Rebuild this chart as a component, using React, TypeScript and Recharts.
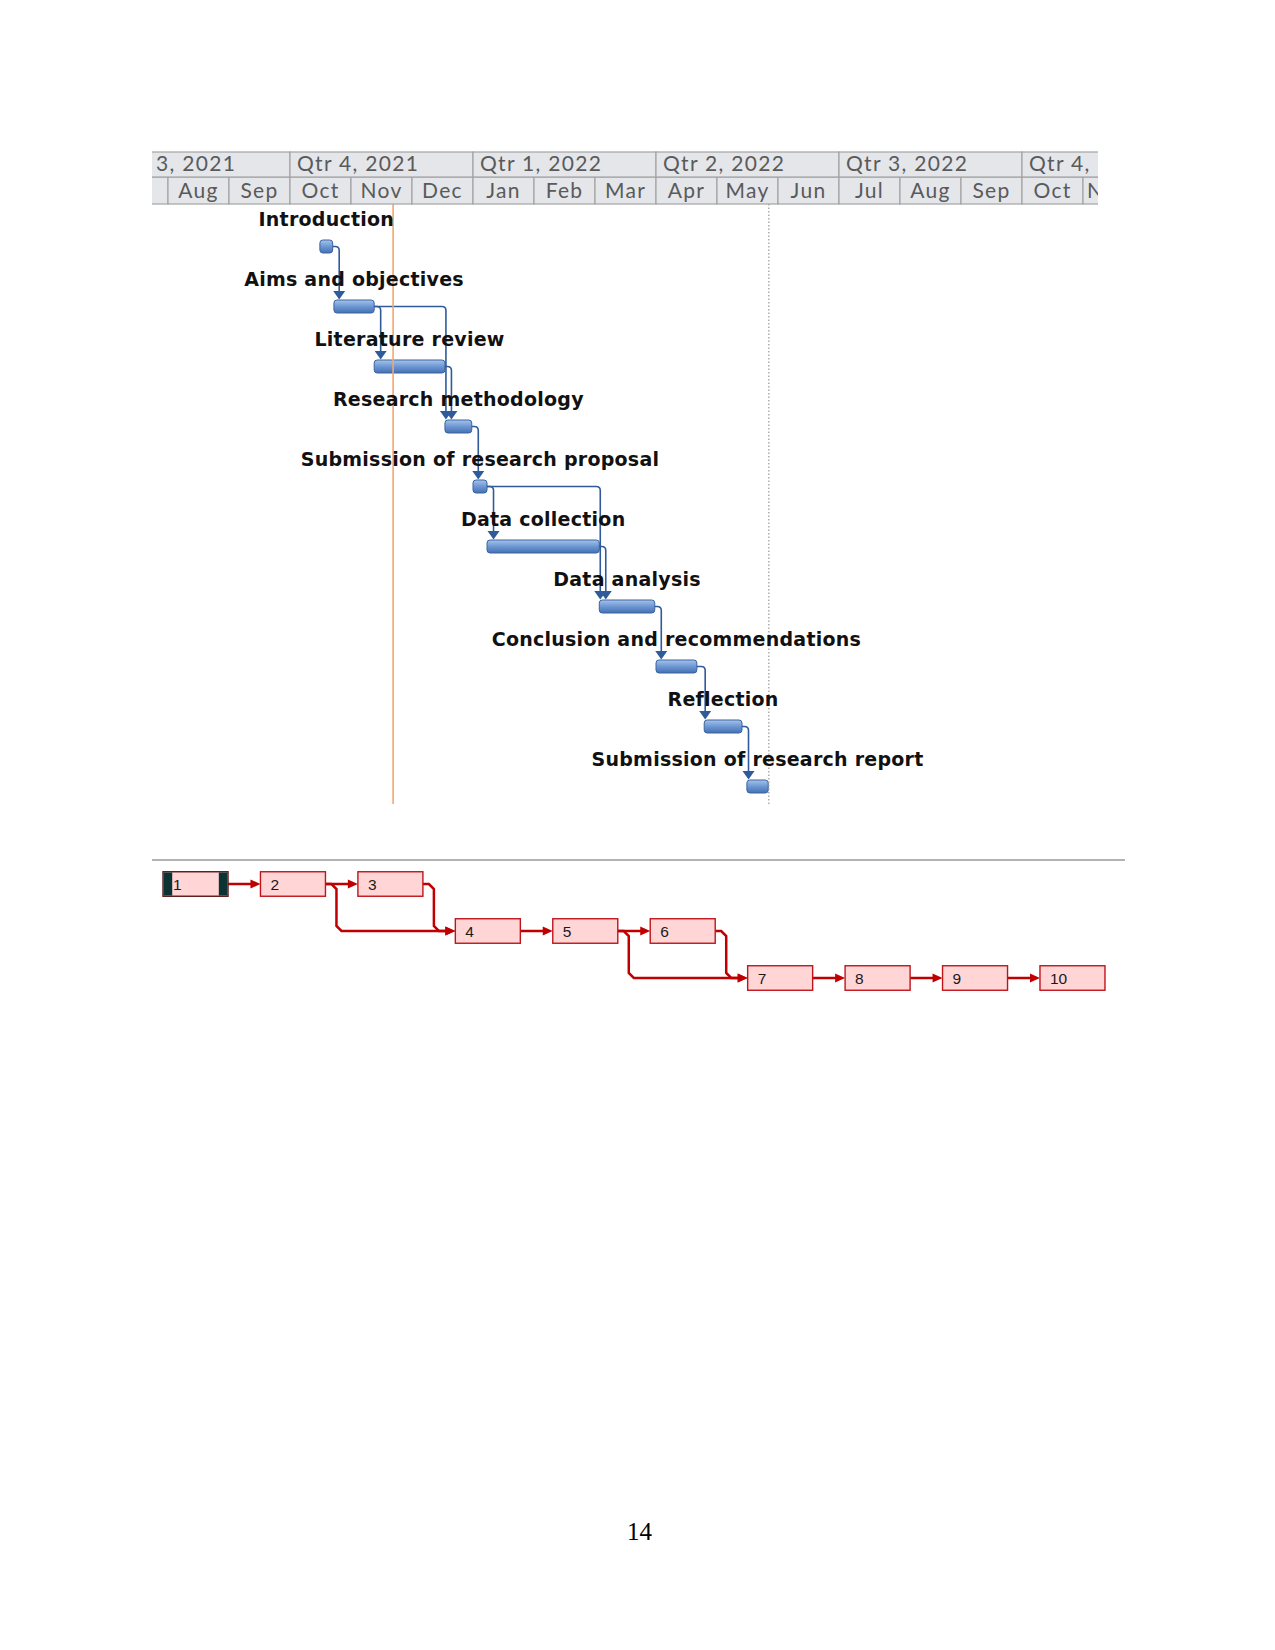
import React from 'react';
import {
  ComposedChart,
  Bar,
  XAxis,
  YAxis,
  ReferenceLine,
  LabelList,
  ScatterChart,
  Scatter,
} from 'recharts';

// timescale, in months counted from 1 Jul 2021
const MONTH_TICKS = [0, 1, 2, 3, 4, 5, 6, 7, 8, 9, 10, 11, 12, 13, 14, 15, 16];
const MONTH_NAMES = ['Jul', 'Aug', 'Sep', 'Oct', 'Nov', 'Dec', 'Jan', 'Feb', 'Mar', 'Apr', 'May', 'Jun', 'Jul', 'Aug', 'Sep', 'Oct', 'Nov'];
const QUARTER_TICKS = [0, 3, 6, 9, 12, 15];
const QUARTER_NAMES = ['Qtr 3, 2021', 'Qtr 4, 2021', 'Qtr 1, 2022', 'Qtr 2, 2022', 'Qtr 3, 2022', 'Qtr 4, 2022'];

const TASKS = [
  'Introduction',
  'Aims and objectives',
  'Literature review',
  'Research methodology',
  'Submission of research proposal',
  'Data collection',
  'Data analysis',
  'Conclusion and recommendations',
  'Reflection',
  'Submission of research report',
];
const TASK_START = [3.49, 3.72, 4.38, 5.54, 6.0, 6.23, 8.07, 9.0, 9.79, 10.49];
const TASK_END = [3.7, 4.38, 5.54, 5.98, 6.23, 8.07, 8.98, 9.67, 10.41, 10.84];
// predecessor -> successor (1-based task ids)
const TASK_LINKS: [number, number][] = [
  [1, 2], [2, 3], [2, 4], [3, 4], [4, 5], [5, 6], [5, 7], [6, 7], [7, 8], [8, 9], [9, 10],
];
const STATUS_DATE = 4.69;
const FINISH_DATE = 10.85;

// network diagram
const NODE_IDS = [1, 2, 3, 4, 5, 6, 7, 8, 9, 10];
const NODE_COLS = [0, 1, 2, 3, 4, 5, 6, 7, 8, 9];
const NODE_ROWS = [0, 0, 0, 1, 1, 1, 2, 2, 2, 2];

// ---- gantt layout
const GANTT_W = 1037;
const GANTT_H = 660;
const X_MAX = 17;
const MONTH_PX = GANTT_W / X_MAX;
const HDR_TOP = 1;
const HDR_Q = 25;
const HDR_M = 27;
const PLOT_H = 600;
const ROW_PX = PLOT_H / TASKS.length;
const BAR_H = 13;
const BAR_SHIFT = 12;
const LABEL_RISE = 21;
const VIEW_END = 16.25;

const HDR_BG = '#e4e6ea';
const HDR_LINE = '#a3a3a3';
const HDR_TEXT = '#5a5a5a';
const HDR_FONT = { fontFamily: 'Lato', fontSize: 21, letterSpacing: 1.3 };
const LINK_BLUE = '#2f5b9b';
const NET_RED = '#c00000';

const ganttRows = TASKS.map((task, i) => ({ task, span: [TASK_START[i], TASK_END[i]], idx: i }));
const netNodes = NODE_IDS.map((id, i) => ({ id, col: NODE_COLS[i], row: NODE_ROWS[i] }));

const QuarterTick = (props: any) => {
  const { x, payload } = props;
  const i = QUARTER_TICKS.indexOf(payload.value);
  return (
    <g>
      <rect x={x} y={HDR_TOP} width={3 * MONTH_PX} height={HDR_Q} fill={HDR_BG} stroke={HDR_LINE} strokeWidth={1.2} />
      <text x={x + 7} y={HDR_TOP + 19} fill={HDR_TEXT} {...HDR_FONT}>
        {QUARTER_NAMES[i]}
      </text>
    </g>
  );
};

const MonthTick = (props: any) => {
  const { x, payload } = props;
  const m = payload.value;
  const clipped = m + 1 > VIEW_END;
  return (
    <g>
      <rect x={x} y={HDR_TOP + HDR_Q} width={MONTH_PX} height={HDR_M} fill={HDR_BG} stroke={HDR_LINE} strokeWidth={1.2} />
      <text
        x={clipped ? x + 4 : x + MONTH_PX / 2}
        y={HDR_TOP + HDR_Q + 20.5}
        textAnchor={clipped ? 'start' : 'middle'}
        fill={HDR_TEXT}
        {...HDR_FONT}
      >
        {MONTH_NAMES[m]}
      </text>
    </g>
  );
};

const GanttBar = (props: any) => {
  const { x, y, width, height, payload } = props;
  const i = payload.idx;
  const cy = y + height / 2 + BAR_SHIFT;
  const top = cy - BAR_H / 2;
  const incoming = TASK_LINKS.filter((l) => l[1] === i + 1);
  return (
    <g>
      <defs>
        <linearGradient id="ganttBarFill" x1="0" y1="0" x2="0" y2="1">
          <stop offset="0%" stopColor="#a7c3ea" />
          <stop offset="50%" stopColor="#6d97d2" />
          <stop offset="100%" stopColor="#4570b2" />
        </linearGradient>
      </defs>
      {incoming.map(([p]) => {
        const j = p - 1;
        const fromX = x + (TASK_END[j] - TASK_START[i]) * MONTH_PX;
        const fromY = cy - (i - j) * ROW_PX;
        const ax = Math.max(fromX + 6.5, x + 1);
        const tipY = top - 0.5;
        const r = 4;
        return (
          <g key={p}>
            <path
              d={`M${fromX},${fromY} H${ax - r} Q${ax},${fromY} ${ax},${fromY + r} V${tipY - 7}`}
              fill="none"
              stroke={LINK_BLUE}
              strokeWidth={1.6}
            />
            <path d={`M${ax - 6},${tipY - 8.5} L${ax + 6},${tipY - 8.5} L${ax},${tipY} Z`} fill={LINK_BLUE} />
          </g>
        );
      })}
      <rect x={x} y={top} width={width} height={BAR_H} rx={3} fill="url(#ganttBarFill)" stroke="#3a64a3" strokeWidth={1} />
    </g>
  );
};

const TaskLabel = (props: any) => {
  const vb = props.viewBox ?? props;
  const { x, y, width, height } = vb;
  return (
    <text
      x={x + width / 2}
      y={y + height / 2 + BAR_SHIFT - LABEL_RISE}
      textAnchor="middle"
      fontFamily="DejaVu Sans"
      fontWeight="bold"
      fontSize={19}
      letterSpacing={0.25}
      fill="#111"
    >
      {props.value}
    </text>
  );
};

// ---- network layout
const NET_W = 1275;
const NET_H = 160;
const NET_M = { top: 10.5, right: 153.8, bottom: 8.5, left: 146.8 };
const COL_PX = (NET_W - NET_M.left - NET_M.right) / 10;
const NROW_PX = (NET_H - NET_M.top - NET_M.bottom) / 3;
const NODE_W = 65;
const NODE_H = 24.5;

const NetLinks = (props: any) => {
  const { cx, cy, payload } = props;
  const sx = cx - NODE_W / 2;
  const incoming = TASK_LINKS.filter((l) => l[1] === payload.id);
  return (
    <g>
      {incoming.map(([p]) => {
        const k = p - 1;
        const px = cx - (payload.col - NODE_COLS[k]) * COL_PX + NODE_W / 2;
        const py = cy - (payload.row - NODE_ROWS[k]) * NROW_PX;
        let d = `M${px},${py} H${sx - 8}`;
        if (NODE_ROWS[k] !== payload.row) {
          const vx = px + 11;
          const c = 5;
          d = `M${px},${py} H${vx - c} L${vx},${py + c} V${cy - c} L${vx + c},${cy} H${sx - 8}`;
        }
        return (
          <g key={p}>
            <path d={d} fill="none" stroke={NET_RED} strokeWidth={2.5} />
            <path d={`M${sx - 10},${cy - 4.5} L${sx},${cy} L${sx - 10},${cy + 4.5} Z`} fill={NET_RED} />
          </g>
        );
      })}
    </g>
  );
};

const NetNode = (props: any) => {
  const { cx, cy, payload } = props;
  const left = cx - NODE_W / 2;
  const top = cy - NODE_H / 2;
  const first = payload.id === NODE_IDS[0];
  return (
    <g>
      <rect x={left} y={top} width={NODE_W} height={NODE_H} fill="#ffd5d5" stroke={first ? '#5a1414' : '#c0141c'} strokeWidth={1.4} />
      {first && (
        <>
          <rect x={left + 0.7} y={top + 0.7} width={8.5} height={NODE_H - 1.4} fill="#0b3333" />
          <rect x={left + NODE_W - 9.2} y={top + 0.7} width={8.5} height={NODE_H - 1.4} fill="#0b3333" />
        </>
      )}
      <text x={left + 10} y={cy + 5.5} fontFamily="Liberation Sans" fontSize={15.5} fill="#1a1a1a">
        {payload.id}
      </text>
    </g>
  );
};

const App = () => {
  return (
    <div style={{ position: 'absolute', left: 0, top: 0, width: 1275, height: 1650, background: '#fff' }}>
      <div style={{ position: 'absolute', left: 152, top: 151, width: 946, height: GANTT_H, overflow: 'hidden' }}>
        <div style={{ position: 'absolute', left: -45, top: 0 }}>
          <ComposedChart
            width={GANTT_W}
            height={GANTT_H}
            layout="vertical"
            data={ganttRows}
            margin={{ top: HDR_TOP, right: 0, bottom: GANTT_H - HDR_TOP - HDR_Q - HDR_M - PLOT_H, left: 0 }}
          >
            <XAxis
              xAxisId="m"
              type="number"
              orientation="top"
              domain={[0, X_MAX]}
              ticks={MONTH_TICKS}
              interval={0}
              height={HDR_M}
              axisLine={false}
              tickLine={false}
              tick={MonthTick}
              allowDataOverflow
            />
            <XAxis
              xAxisId="q"
              type="number"
              orientation="top"
              domain={[0, X_MAX]}
              ticks={QUARTER_TICKS}
              interval={0}
              height={HDR_Q}
              axisLine={false}
              tickLine={false}
              tick={QuarterTick}
              allowDataOverflow
            />
            <YAxis type="category" dataKey="task" hide />
            <ReferenceLine xAxisId="m" x={STATUS_DATE} stroke="#f3a66e" strokeWidth={1.6} />
            <ReferenceLine xAxisId="m" x={FINISH_DATE} stroke="#9a9a9a" strokeWidth={1.2} strokeDasharray="1.5 2" />
            <Bar xAxisId="m" dataKey="span" barSize={BAR_H} shape={GanttBar} isAnimationActive={false}>
              <LabelList dataKey="task" content={TaskLabel} />
            </Bar>
          </ComposedChart>
        </div>
      </div>

      <div style={{ position: 'absolute', left: 152, top: 859, width: 973, height: 2, background: '#b3b3b3' }} />

      <div style={{ position: 'absolute', left: 0, top: 850 }}>
        <ScatterChart width={NET_W} height={NET_H} margin={NET_M}>
          <XAxis type="number" dataKey="col" domain={[-0.5, 9.5]} hide />
          <YAxis type="number" dataKey="row" domain={[-0.5, 2.5]} reversed hide />
          <Scatter data={netNodes} shape={NetLinks} isAnimationActive={false} />
          <Scatter data={netNodes} shape={NetNode} isAnimationActive={false} />
        </ScatterChart>
      </div>

      <div
        style={{
          position: 'absolute',
          left: 2,
          top: 1519,
          width: 1275,
          textAlign: 'center',
          fontFamily: '"Liberation Serif", serif',
          fontSize: 25,
          lineHeight: '25px',
          color: '#000',
        }}
      >
        14
      </div>
    </div>
  );
};

export default App;
